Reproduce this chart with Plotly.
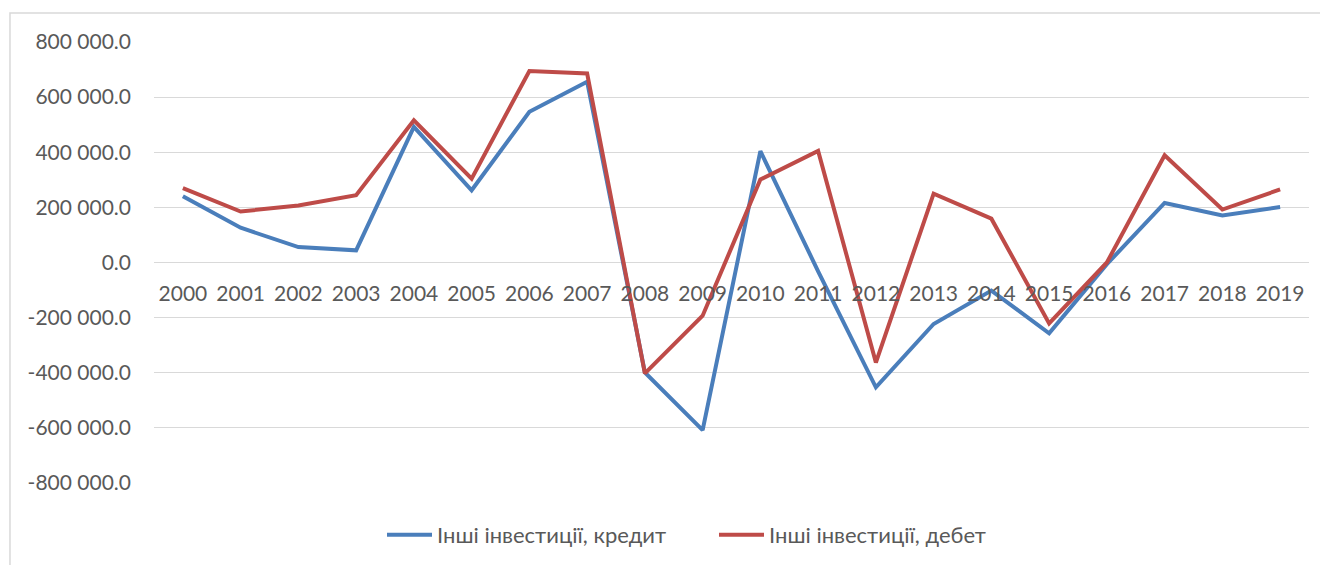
import plotly.graph_objects as go

years = [str(y) for y in range(2000, 2020)]
credit = [240000, 126000, 56000, 44000, 492000, 262000, 547000, 656000, -399000, -608000,
          404000, -32000, -453000, -223000, -102000, -257000, -6000, 216000, 171000, 201000]
debit = [270000, 185000, 207000, 244000, 516000, 304000, 695000, 686000, -402000, -193000,
         301000, 405000, -363000, 250000, 159000, -221000, 0, 389000, 192000, 265000]
name_credit = "Інші інвестиції, кредит"
name_debit = "Інші інвестиції, дебет"
y_tick_vals = [800000, 600000, 400000, 200000, 0, -200000, -400000, -600000, -800000]
y_tick_text = ["800 000.0", "600 000.0", "400 000.0", "200 000.0", "0.0",
               "-200 000.0", "-400 000.0", "-600 000.0", "-800 000.0"]

FONT = "Lato"
GRAY = "#595959"
GRID = "#d9d9d9"

fig = go.Figure()
fig.add_trace(go.Scatter(x=years, y=credit, mode="lines", name=name_credit,
                         line=dict(color="#4a7ebb", width=4)))
fig.add_trace(go.Scatter(x=years, y=debit, mode="lines", name=name_debit,
                         line=dict(color="#be4b48", width=4)))

fig.update_layout(
    width=1328, height=565,
    margin=dict(l=146, r=27, t=34, b=90),
    paper_bgcolor="white", plot_bgcolor="white",
    font=dict(family=FONT, size=21, color=GRAY),
    showlegend=True,
    legend=dict(orientation="h", x=0.1974, xanchor="left", y=-0.118, yanchor="middle",
                font=dict(family=FONT, size=22, color=GRAY), itemwidth=45,
                entrywidth=272, entrywidthmode="pixels", tracegroupgap=0),
    xaxis=dict(type="category", anchor="free", position=0.5, showgrid=False,
               showline=False, ticks="", ticklabelstandoff=16,
               tickfont=dict(family=FONT, size=21, color=GRAY),
               range=[-0.5, 19.5], fixedrange=True),
    yaxis=dict(range=[-800000, 800000], tickvals=y_tick_vals, ticktext=y_tick_text,
               showgrid=True, gridcolor=GRID, gridwidth=1.3, zeroline=True,
               zerolinecolor=GRID, zerolinewidth=1.3, showline=False, ticks="",
               ticklabelstandoff=22, tickfont=dict(family=FONT, size=21, color=GRAY)),
    shapes=[dict(type="rect", xref="paper", yref="paper",
                 x0=-0.1247, x1=1.03, y0=1.0658, y1=-0.25,
                 line=dict(color=GRID, width=1.5), fillcolor="rgba(0,0,0,0)", layer="below")],
)

fig.write_html("out.html")
